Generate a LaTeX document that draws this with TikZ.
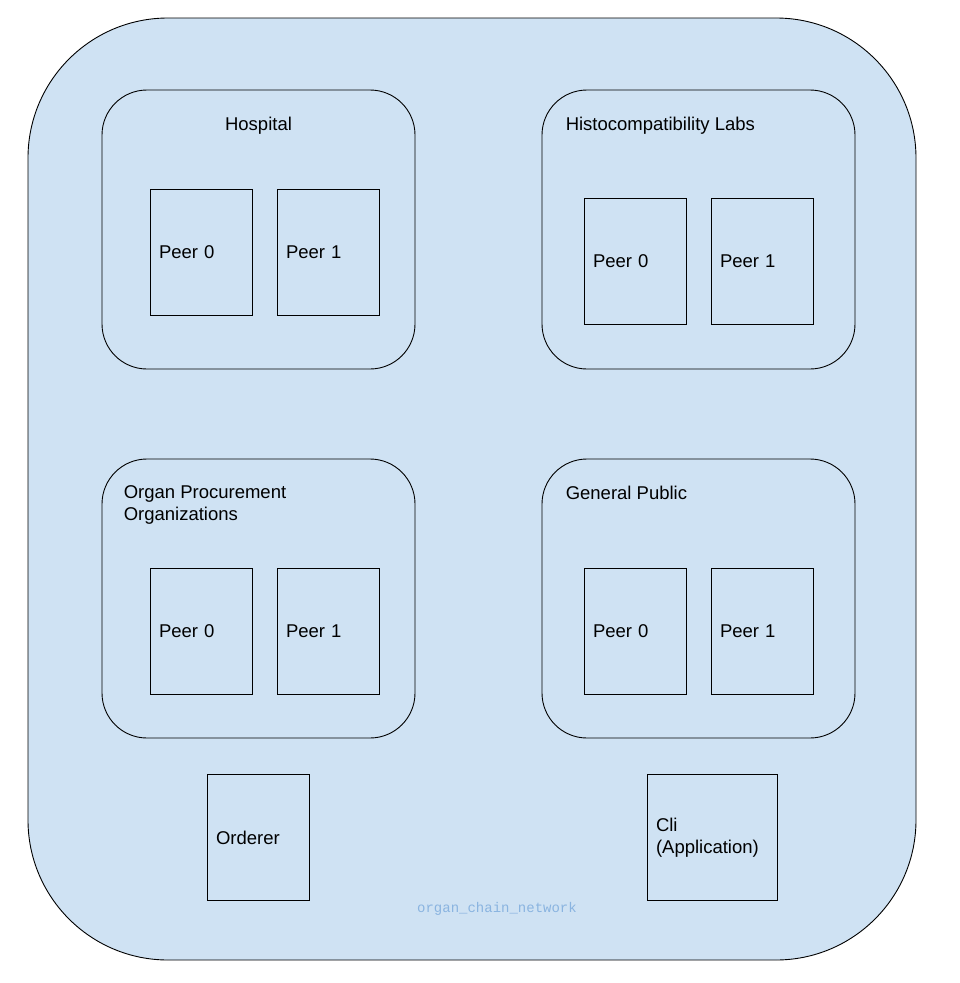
\documentclass[tikz,border=0pt]{standalone}
\usepackage{fontspec}
\setmainfont{Liberation Sans}
\newfontfamily\netfont{Liberation Mono}
\usetikzlibrary{positioning}
\definecolor{netfill}{HTML}{CFE2F3}
\definecolor{netlabel}{HTML}{8AB4E0}
\begin{document}
\begin{tikzpicture}[x=1pt,y=-1pt]
\tikzstyle{every node}+=[font=\fontsize{18.5}{22}\selectfont]
\tikzstyle{org}=[draw=black,line width=0.9pt,rounded corners=45pt,minimum width=313pt,minimum height=279pt]
\tikzstyle{peer}=[draw=black,line width=0.9pt,text width=84pt,inner xsep=9pt,minimum height=126pt,align=left]
\tikzstyle{title}=[inner sep=0pt,align=left]
\useasboundingbox (0,0) rectangle (959,983);
\draw [black,fill=netfill,line width=0.9pt,rounded corners=140pt] (28,18) rectangle (916,960);
\node (netname) at (497,909) [text=netlabel,font=\netfont\fontsize{14}{16}\selectfont] {organ\_chain\_network};
% organisations
\node [org] (hosp) at (258.5,229.5) {};
\node [org] (labs) at (698.5,229.5) {};
\node [org] (opo) at (258.5,598.5) {};
\node [org] (pub) at (698.5,598.5) {};
\node [title,anchor=north] (hosptitle) at ([yshift=-27pt]hosp.north) {Hospital};
\node [title,anchor=north west] (labstitle) at ([xshift=24pt,yshift=-27pt]labs.north west) {Histocompatibility Labs};
\node [title,anchor=north west] (opotitle) at ([xshift=22pt,yshift=-27pt]opo.north west) {Organ Procurement\\Organizations};
\node [title,anchor=north west] (pubtitle) at ([xshift=24pt,yshift=-27pt]pub.north west) {General Public};
% peers
\node [peer] (hosppeer0) at (201,252) {Peer 0};
\node [peer] (hosppeer1) at (328,252) {Peer 1};
\node [peer] (labspeer0) at (635,261.5) {Peer 0};
\node [peer] (labspeer1) at (762,261.5) {Peer 1};
\node [peer] (opopeer0) at (201,631.5) {Peer 0};
\node [peer] (opopeer1) at (328,631.5) {Peer 1};
\node [peer] (pubpeer0) at (635,631.5) {Peer 0};
\node [peer] (pubpeer1) at (762,631.5) {Peer 1};
% orderer and client
\node [peer] (orderer) at (258,837.5) {Orderer};
\node [peer,text width=112pt] (cli) at (712,837.5) {Cli\\(Application)};
\end{tikzpicture}
\end{document}
